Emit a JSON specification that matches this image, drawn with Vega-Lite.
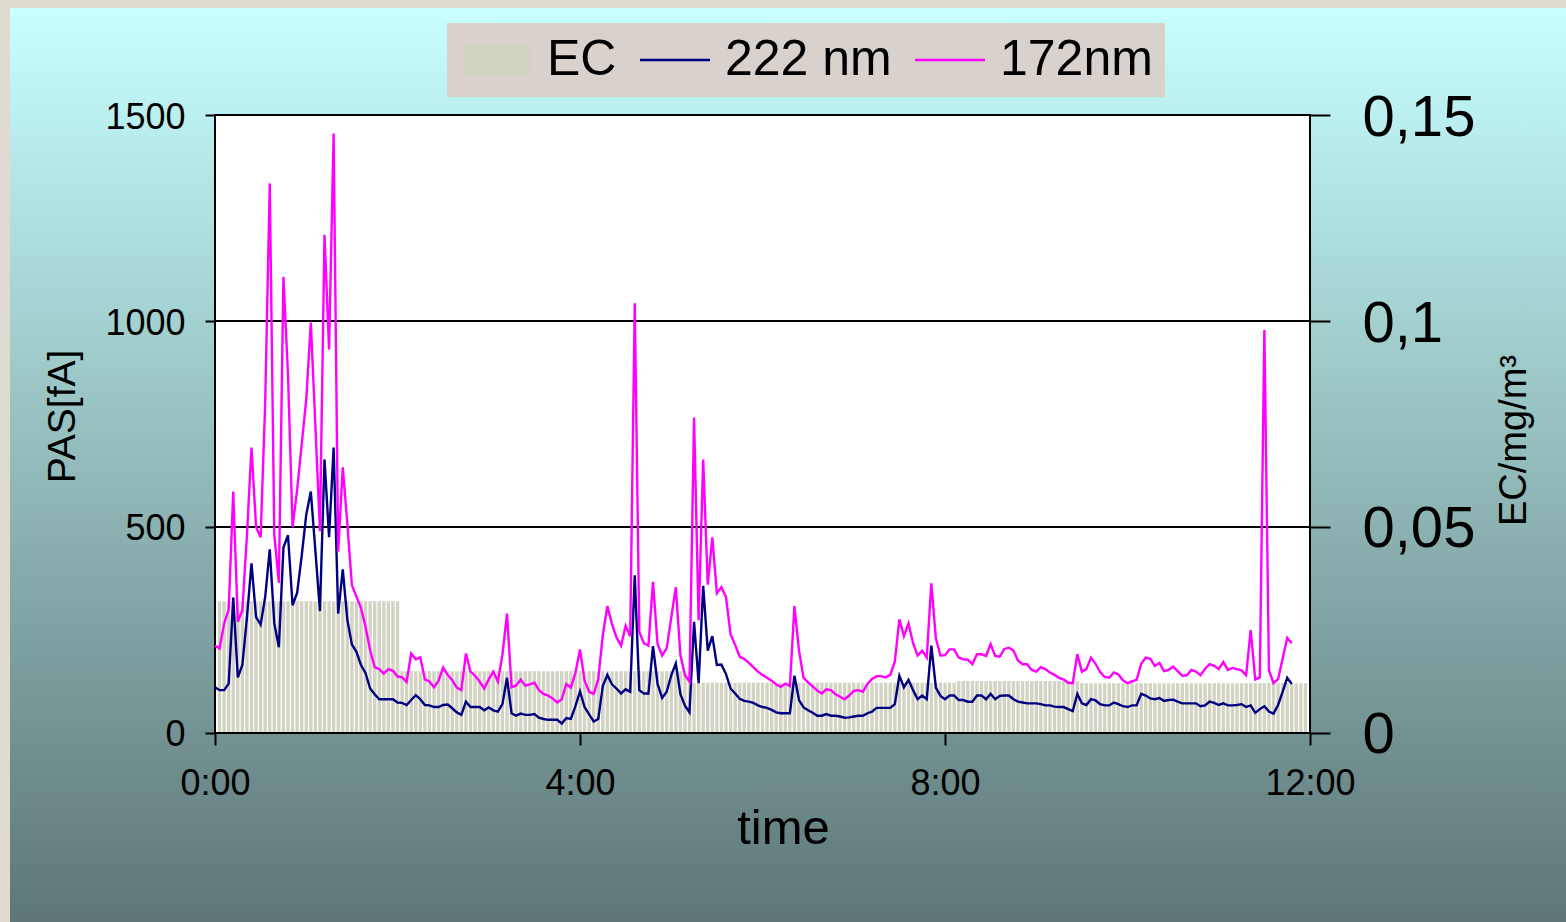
{
  "$schema": "https://vega.github.io/schema/vega-lite/v6.json",
  "width": 1556,
  "height": 914,
  "padding": {"left": 10, "top": 8, "right": 0, "bottom": 0},
  "autosize": {"type": "none"},
  "background": "#e0dbd0",
  "config": {
    "view": {"stroke": null, "fill": {"gradient": "linear", "x1": 0, "y1": 0, "x2": 0, "y2": 1, "stops": [{"offset": 0, "color": "#c8ffff"}, {"offset": 1, "color": "#5e7676"}]}},
    "font": "Liberation Sans",
    "axis": {"domain": false, "grid": false, "labelFont": "Liberation Sans", "titleFont": "Liberation Sans", "labelColor": "black", "titleColor": "black", "tickColor": "black", "tickWidth": 2, "titleFontWeight": "normal", "labelFlush": false, "labelOverlap": false, "labelBound": false}
  },
  "datasets": {
    "pas": [
      {"t":0,"nm222":111,"nm172":212},{"t":3,"nm222":104,"nm172":205},{"t":6,"nm222":104,"nm172":265},{"t":9,"nm222":120,"nm172":300},{"t":12,"nm222":329,"nm172":586},{"t":15,"nm222":135,"nm172":270},{"t":18,"nm222":165,"nm172":298},{"t":21,"nm222":280,"nm172":480},{"t":24,"nm222":412,"nm172":693},{"t":27,"nm222":281,"nm172":500},
      {"t":30,"nm222":263,"nm172":475},{"t":33,"nm222":330,"nm172":800},{"t":36,"nm222":446,"nm172":1334},{"t":39,"nm222":266,"nm172":480},{"t":42,"nm222":208,"nm172":365},{"t":45,"nm222":450,"nm172":1107},{"t":48,"nm222":480,"nm172":870},{"t":51,"nm222":310,"nm172":500},{"t":54,"nm222":340,"nm172":590},{"t":57,"nm222":430,"nm172":700},
      {"t":60,"nm222":530,"nm172":810},{"t":63,"nm222":586,"nm172":996},{"t":66,"nm222":443,"nm172":746},{"t":69,"nm222":296,"nm172":490},{"t":72,"nm222":664,"nm172":1209},{"t":75,"nm222":475,"nm172":931},{"t":78,"nm222":693,"nm172":1455},{"t":81,"nm222":290,"nm172":440},{"t":84,"nm222":397,"nm172":645},{"t":87,"nm222":275,"nm172":509},
      {"t":90,"nm222":215,"nm172":359},{"t":93,"nm222":197,"nm172":331},{"t":96,"nm222":165,"nm172":303},{"t":99,"nm222":145,"nm172":258},{"t":102,"nm222":108,"nm172":201},{"t":105,"nm222":94,"nm172":160},{"t":108,"nm222":82,"nm172":155},{"t":111,"nm222":82,"nm172":144},{"t":114,"nm222":82,"nm172":155},{"t":117,"nm222":82,"nm172":151},
      {"t":120,"nm222":74,"nm172":137},{"t":123,"nm222":73,"nm172":135},{"t":126,"nm222":68,"nm172":124},{"t":129,"nm222":80,"nm172":193},{"t":132,"nm222":92,"nm172":179},{"t":135,"nm222":82,"nm172":184},{"t":138,"nm222":68,"nm172":130},{"t":141,"nm222":67,"nm172":125},{"t":144,"nm222":63,"nm172":111},{"t":147,"nm222":63,"nm172":127},
      {"t":150,"nm222":68,"nm172":159},{"t":153,"nm222":69,"nm172":141},{"t":156,"nm222":60,"nm172":128},{"t":159,"nm222":50,"nm172":110},{"t":162,"nm222":44,"nm172":104},{"t":165,"nm222":76,"nm172":193},{"t":168,"nm222":63,"nm172":149},{"t":171,"nm222":63,"nm172":139},{"t":174,"nm222":63,"nm172":125},{"t":177,"nm222":55,"nm172":108},
      {"t":180,"nm222":62,"nm172":130},{"t":183,"nm222":55,"nm172":149},{"t":186,"nm222":52,"nm172":125},{"t":189,"nm222":70,"nm172":190},{"t":192,"nm222":134,"nm172":290},{"t":195,"nm222":48,"nm172":111},{"t":198,"nm222":42,"nm172":115},{"t":201,"nm222":47,"nm172":130},{"t":204,"nm222":44,"nm172":115},{"t":207,"nm222":44,"nm172":118},
      {"t":210,"nm222":46,"nm172":122},{"t":213,"nm222":37,"nm172":104},{"t":216,"nm222":34,"nm172":95},{"t":219,"nm222":32,"nm172":91},{"t":222,"nm222":32,"nm172":84},{"t":225,"nm222":32,"nm172":74},{"t":228,"nm222":23,"nm172":82},{"t":231,"nm222":36,"nm172":119},{"t":234,"nm222":34,"nm172":110},{"t":237,"nm222":65,"nm172":146},
      {"t":240,"nm222":101,"nm172":203},{"t":243,"nm222":63,"nm172":127},{"t":246,"nm222":45,"nm172":100},{"t":249,"nm222":28,"nm172":95},{"t":252,"nm222":34,"nm172":130},{"t":255,"nm222":114,"nm172":238},{"t":258,"nm222":141,"nm172":308},{"t":261,"nm222":118,"nm172":265},{"t":264,"nm222":108,"nm172":232},{"t":267,"nm222":96,"nm172":212},
      {"t":270,"nm222":106,"nm172":260},{"t":273,"nm222":100,"nm172":235},{"t":276,"nm222":383,"nm172":1043},{"t":279,"nm222":104,"nm172":245},{"t":282,"nm222":96,"nm172":218},{"t":285,"nm222":96,"nm172":212},{"t":288,"nm222":211,"nm172":367},{"t":291,"nm222":119,"nm172":216},{"t":294,"nm222":85,"nm172":188},{"t":297,"nm222":100,"nm172":206},
      {"t":300,"nm222":140,"nm172":280},{"t":303,"nm222":169,"nm172":354},{"t":306,"nm222":95,"nm172":190},{"t":309,"nm222":66,"nm172":140},{"t":312,"nm222":50,"nm172":125},{"t":315,"nm222":270,"nm172":766},{"t":318,"nm222":121,"nm172":274},{"t":321,"nm222":357,"nm172":664},{"t":324,"nm222":200,"nm172":360},{"t":327,"nm222":235,"nm172":475},
      {"t":330,"nm222":165,"nm172":339},{"t":333,"nm222":166,"nm172":354},{"t":336,"nm222":143,"nm172":330},{"t":339,"nm222":108,"nm172":240},{"t":342,"nm222":96,"nm172":214},{"t":345,"nm222":83,"nm172":185},{"t":348,"nm222":78,"nm172":180},{"t":351,"nm222":76,"nm172":170},{"t":354,"nm222":73,"nm172":160},{"t":357,"nm222":67,"nm172":149},
      {"t":360,"nm222":63,"nm172":141},{"t":363,"nm222":61,"nm172":134},{"t":366,"nm222":56,"nm172":127},{"t":369,"nm222":50,"nm172":118},{"t":372,"nm222":48,"nm172":112},{"t":375,"nm222":48,"nm172":120},{"t":378,"nm222":48,"nm172":114},{"t":381,"nm222":139,"nm172":308},{"t":384,"nm222":80,"nm172":200},{"t":387,"nm222":62,"nm172":134},
      {"t":390,"nm222":55,"nm172":123},{"t":393,"nm222":49,"nm172":113},{"t":396,"nm222":42,"nm172":103},{"t":399,"nm222":42,"nm172":96},{"t":402,"nm222":46,"nm172":106},{"t":405,"nm222":42,"nm172":104},{"t":408,"nm222":42,"nm172":94},{"t":411,"nm222":40,"nm172":88},{"t":414,"nm222":37,"nm172":82},{"t":417,"nm222":38,"nm172":91},
      {"t":420,"nm222":40,"nm172":102},{"t":423,"nm222":42,"nm172":104},{"t":426,"nm222":42,"nm172":100},{"t":429,"nm222":48,"nm172":119},{"t":432,"nm222":52,"nm172":131},{"t":435,"nm222":61,"nm172":138},{"t":438,"nm222":61,"nm172":138},{"t":441,"nm222":61,"nm172":135},{"t":444,"nm222":61,"nm172":141},{"t":447,"nm222":70,"nm172":173},
      {"t":450,"nm222":139,"nm172":276},{"t":453,"nm222":111,"nm172":235},{"t":456,"nm222":129,"nm172":266},{"t":459,"nm222":104,"nm172":218},{"t":462,"nm222":82,"nm172":188},{"t":465,"nm222":91,"nm172":200},{"t":468,"nm222":82,"nm172":183},{"t":471,"nm222":212,"nm172":363},{"t":474,"nm222":110,"nm172":230},{"t":477,"nm222":90,"nm172":188},
      {"t":480,"nm222":82,"nm172":189},{"t":483,"nm222":91,"nm172":203},{"t":486,"nm222":91,"nm172":203},{"t":489,"nm222":80,"nm172":183},{"t":492,"nm222":80,"nm172":179},{"t":495,"nm222":76,"nm172":178},{"t":498,"nm222":76,"nm172":167},{"t":501,"nm222":91,"nm172":191},{"t":504,"nm222":91,"nm172":191},{"t":507,"nm222":82,"nm172":187},
      {"t":510,"nm222":95,"nm172":216},{"t":513,"nm222":82,"nm172":187},{"t":516,"nm222":90,"nm172":185},{"t":519,"nm222":91,"nm172":204},{"t":522,"nm222":91,"nm172":207},{"t":525,"nm222":82,"nm172":200},{"t":528,"nm222":76,"nm172":176},{"t":531,"nm222":74,"nm172":167},{"t":534,"nm222":72,"nm172":167},{"t":537,"nm222":72,"nm172":153},
      {"t":540,"nm222":72,"nm172":149},{"t":543,"nm222":70,"nm172":160},{"t":546,"nm222":67,"nm172":155},{"t":549,"nm222":67,"nm172":147},{"t":552,"nm222":64,"nm172":141},{"t":555,"nm222":63,"nm172":134},{"t":558,"nm222":63,"nm172":130},{"t":561,"nm222":58,"nm172":122},{"t":564,"nm222":53,"nm172":121},{"t":567,"nm222":95,"nm172":191},
      {"t":570,"nm222":72,"nm172":149},{"t":573,"nm222":68,"nm172":155},{"t":576,"nm222":82,"nm172":183},{"t":579,"nm222":79,"nm172":168},{"t":582,"nm222":70,"nm172":148},{"t":585,"nm222":67,"nm172":136},{"t":588,"nm222":67,"nm172":134},{"t":591,"nm222":74,"nm172":147},{"t":594,"nm222":70,"nm172":142},{"t":597,"nm222":65,"nm172":128},
      {"t":600,"nm222":63,"nm172":121},{"t":603,"nm222":67,"nm172":125},{"t":606,"nm222":67,"nm172":129},{"t":609,"nm222":95,"nm172":168},{"t":612,"nm222":91,"nm172":183},{"t":615,"nm222":84,"nm172":180},{"t":618,"nm222":82,"nm172":163},{"t":621,"nm222":85,"nm172":170},{"t":624,"nm222":78,"nm172":150},{"t":627,"nm222":80,"nm172":153},
      {"t":630,"nm222":81,"nm172":161},{"t":633,"nm222":76,"nm172":150},{"t":636,"nm222":72,"nm172":139},{"t":639,"nm222":72,"nm172":140},{"t":642,"nm222":72,"nm172":153},{"t":645,"nm222":72,"nm172":149},{"t":648,"nm222":65,"nm172":140},{"t":651,"nm222":67,"nm172":156},{"t":654,"nm222":76,"nm172":167},{"t":657,"nm222":73,"nm172":163},
      {"t":660,"nm222":68,"nm172":155},{"t":663,"nm222":72,"nm172":172},{"t":666,"nm222":67,"nm172":153},{"t":669,"nm222":67,"nm172":158},{"t":672,"nm222":68,"nm172":155},{"t":675,"nm222":70,"nm172":152},{"t":678,"nm222":63,"nm172":140},{"t":681,"nm222":67,"nm172":250},{"t":684,"nm222":49,"nm172":130},{"t":687,"nm222":58,"nm172":135},
      {"t":690,"nm222":65,"nm172":978},{"t":693,"nm222":52,"nm172":153},{"t":696,"nm222":47,"nm172":121},{"t":699,"nm222":68,"nm172":131},{"t":702,"nm222":100,"nm172":180},{"t":705,"nm222":134,"nm172":231},{"t":708,"nm222":119,"nm172":218}
    ],
    "ec": [
      {"t":3,"ec":0.032},{"t":6,"ec":0.032},{"t":9,"ec":0.032},{"t":12,"ec":0.032},{"t":15,"ec":0.032},{"t":18,"ec":0.032},{"t":21,"ec":0.032},{"t":24,"ec":0.032},{"t":27,"ec":0.032},{"t":30,"ec":0.032},
      {"t":33,"ec":0.032},{"t":36,"ec":0.032},{"t":39,"ec":0.032},{"t":42,"ec":0.032},{"t":45,"ec":0.032},{"t":48,"ec":0.032},{"t":51,"ec":0.032},{"t":54,"ec":0.032},{"t":57,"ec":0.032},{"t":60,"ec":0.032},
      {"t":63,"ec":0.032},{"t":66,"ec":0.032},{"t":69,"ec":0.032},{"t":72,"ec":0.032},{"t":75,"ec":0.032},{"t":78,"ec":0.032},{"t":81,"ec":0.032},{"t":84,"ec":0.032},{"t":87,"ec":0.032},{"t":90,"ec":0.032},
      {"t":93,"ec":0.032},{"t":96,"ec":0.032},{"t":99,"ec":0.032},{"t":102,"ec":0.032},{"t":105,"ec":0.032},{"t":108,"ec":0.032},{"t":111,"ec":0.032},{"t":114,"ec":0.032},{"t":117,"ec":0.032},{"t":120,"ec":0.032},
      {"t":123,"ec":0.015},{"t":126,"ec":0.015},{"t":129,"ec":0.015},{"t":132,"ec":0.015},{"t":135,"ec":0.015},{"t":138,"ec":0.015},{"t":141,"ec":0.015},{"t":144,"ec":0.015},{"t":147,"ec":0.015},{"t":150,"ec":0.015},
      {"t":153,"ec":0.015},{"t":156,"ec":0.015},{"t":159,"ec":0.015},{"t":162,"ec":0.015},{"t":165,"ec":0.015},{"t":168,"ec":0.015},{"t":171,"ec":0.015},{"t":174,"ec":0.015},{"t":177,"ec":0.015},{"t":180,"ec":0.015},
      {"t":183,"ec":0.015},{"t":186,"ec":0.015},{"t":189,"ec":0.015},{"t":192,"ec":0.015},{"t":195,"ec":0.015},{"t":198,"ec":0.015},{"t":201,"ec":0.015},{"t":204,"ec":0.015},{"t":207,"ec":0.015},{"t":210,"ec":0.015},
      {"t":213,"ec":0.015},{"t":216,"ec":0.015},{"t":219,"ec":0.015},{"t":222,"ec":0.015},{"t":225,"ec":0.015},{"t":228,"ec":0.015},{"t":231,"ec":0.015},{"t":234,"ec":0.015},{"t":237,"ec":0.015},{"t":240,"ec":0.015},
      {"t":243,"ec":0.015},{"t":246,"ec":0.015},{"t":249,"ec":0.015},{"t":252,"ec":0.015},{"t":255,"ec":0.015},{"t":258,"ec":0.015},{"t":261,"ec":0.015},{"t":264,"ec":0.015},{"t":267,"ec":0.015},{"t":270,"ec":0.015},
      {"t":273,"ec":0.015},{"t":276,"ec":0.015},{"t":279,"ec":0.015},{"t":282,"ec":0.015},{"t":285,"ec":0.015},{"t":288,"ec":0.015},{"t":291,"ec":0.015},{"t":294,"ec":0.015},{"t":297,"ec":0.015},{"t":300,"ec":0.015},
      {"t":303,"ec":0.015},{"t":306,"ec":0.015},{"t":309,"ec":0.015},{"t":312,"ec":0.015},{"t":315,"ec":0.0122},{"t":318,"ec":0.0122},{"t":321,"ec":0.0122},{"t":324,"ec":0.0122},{"t":327,"ec":0.0122},{"t":330,"ec":0.0122},
      {"t":333,"ec":0.0122},{"t":336,"ec":0.0122},{"t":339,"ec":0.0122},{"t":342,"ec":0.0122},{"t":345,"ec":0.0122},{"t":348,"ec":0.0122},{"t":351,"ec":0.0122},{"t":354,"ec":0.0122},{"t":357,"ec":0.0122},{"t":360,"ec":0.0122},
      {"t":363,"ec":0.0122},{"t":366,"ec":0.0122},{"t":369,"ec":0.0122},{"t":372,"ec":0.0122},{"t":375,"ec":0.0122},{"t":378,"ec":0.0122},{"t":381,"ec":0.0122},{"t":384,"ec":0.0122},{"t":387,"ec":0.0122},{"t":390,"ec":0.0122},
      {"t":393,"ec":0.0122},{"t":396,"ec":0.0122},{"t":399,"ec":0.0122},{"t":402,"ec":0.0122},{"t":405,"ec":0.0122},{"t":408,"ec":0.0122},{"t":411,"ec":0.0122},{"t":414,"ec":0.0122},{"t":417,"ec":0.0122},{"t":420,"ec":0.0122},
      {"t":423,"ec":0.0122},{"t":426,"ec":0.0122},{"t":429,"ec":0.0122},{"t":432,"ec":0.0122},{"t":435,"ec":0.0122},{"t":438,"ec":0.0122},{"t":441,"ec":0.0122},{"t":444,"ec":0.0122},{"t":447,"ec":0.0122},{"t":450,"ec":0.0122},
      {"t":453,"ec":0.0122},{"t":456,"ec":0.0122},{"t":459,"ec":0.0122},{"t":462,"ec":0.0122},{"t":465,"ec":0.0122},{"t":468,"ec":0.0122},{"t":471,"ec":0.0122},{"t":474,"ec":0.0122},{"t":477,"ec":0.0122},{"t":480,"ec":0.0122},
      {"t":483,"ec":0.0122},{"t":486,"ec":0.0122},{"t":489,"ec":0.0126},{"t":492,"ec":0.0126},{"t":495,"ec":0.0126},{"t":498,"ec":0.0126},{"t":501,"ec":0.0126},{"t":504,"ec":0.0126},{"t":507,"ec":0.0126},{"t":510,"ec":0.0126},
      {"t":513,"ec":0.0126},{"t":516,"ec":0.0126},{"t":519,"ec":0.0126},{"t":522,"ec":0.0126},{"t":525,"ec":0.0126},{"t":528,"ec":0.0126},{"t":531,"ec":0.0126},{"t":534,"ec":0.0126},{"t":537,"ec":0.0126},{"t":540,"ec":0.0126},
      {"t":543,"ec":0.0126},{"t":546,"ec":0.0126},{"t":549,"ec":0.0126},{"t":552,"ec":0.0126},{"t":555,"ec":0.0126},{"t":558,"ec":0.0126},{"t":561,"ec":0.0126},{"t":564,"ec":0.0126},{"t":567,"ec":0.0126},{"t":570,"ec":0.0121},
      {"t":573,"ec":0.0121},{"t":576,"ec":0.0121},{"t":579,"ec":0.0121},{"t":582,"ec":0.0121},{"t":585,"ec":0.0121},{"t":588,"ec":0.0121},{"t":591,"ec":0.0121},{"t":594,"ec":0.0121},{"t":597,"ec":0.0121},{"t":600,"ec":0.0121},
      {"t":603,"ec":0.0121},{"t":606,"ec":0.0121},{"t":609,"ec":0.0121},{"t":612,"ec":0.0121},{"t":615,"ec":0.0121},{"t":618,"ec":0.0121},{"t":621,"ec":0.0121},{"t":624,"ec":0.0121},{"t":627,"ec":0.0121},{"t":630,"ec":0.0121},
      {"t":633,"ec":0.0121},{"t":636,"ec":0.0121},{"t":639,"ec":0.0121},{"t":642,"ec":0.0121},{"t":645,"ec":0.0121},{"t":648,"ec":0.0121},{"t":651,"ec":0.0121},{"t":654,"ec":0.0121},{"t":657,"ec":0.0121},{"t":660,"ec":0.0121},
      {"t":663,"ec":0.0121},{"t":666,"ec":0.0121},{"t":669,"ec":0.0121},{"t":672,"ec":0.0121},{"t":675,"ec":0.0121},{"t":678,"ec":0.0121},{"t":681,"ec":0.0121},{"t":684,"ec":0.0121},{"t":687,"ec":0.0121},{"t":690,"ec":0.0121},
      {"t":693,"ec":0.0121},{"t":696,"ec":0.0121},{"t":699,"ec":0.0121},{"t":702,"ec":0.0121},{"t":705,"ec":0.0121},{"t":708,"ec":0.0121},{"t":711,"ec":0.0121},{"t":714,"ec":0.0121},{"t":717,"ec":0.0121}
    ]
  },
  "resolve": {"scale": {"y": "independent"}, "axis": {"y": "independent"}},
  "layer": [
    {
      "data": {"values": [{}]},
      "mark": {"type": "rect", "fill": "white"},
      "encoding": {
        "x": {"datum": 0, "type": "quantitative", "scale": {"domain": [-134.795, 888.328], "nice": false, "zero": false, "padding": 0},
          "axis": {"orient": "bottom", "offset": -189, "values": [0, 240, 480, 720], "labelExpr": "floor(datum.value / 60) + ':00'", "tickSize": 12, "labelFontSize": 36, "labelPadding": 21, "title": "time", "titleFontSize": 49, "titleX": 773, "titleY": 95, "titleAlign": "center", "titleBaseline": "middle"}},
        "x2": {"datum": 720},
        "y": {"datum": 0, "type": "quantitative", "scale": {"domain": [-458.74, 1759.71], "nice": false, "zero": false},
          "axis": {"orient": "left", "offset": -205, "values": [0, 500, 1000, 1500], "format": "d", "tickSize": 10, "labelFontSize": 36, "labelPadding": 20, "labelOffset": 2, "title": "PAS[fA]", "titleFontSize": 39, "titleAngle": -90, "titleX": -153, "titleY": 408, "titleAlign": "center", "titleBaseline": "middle"}},
        "y2": {"datum": 1500}
      }
    },
    {
      "data": {"name": "ec"},
      "mark": {"type": "bar", "size": 3.4},
      "encoding": {
        "x": {"field": "t", "type": "quantitative", "scale": {"domain": [-134.795, 888.328], "nice": false, "zero": false, "padding": 0}},
        "y": {"field": "ec", "type": "quantitative", "scale": {"domain": [-0.045874, 0.175971], "nice": false, "zero": false},
          "axis": {"orient": "right", "offset": -256, "values": [0, 0.05, 0.1, 0.15], "labelExpr": "replace(format(datum.value, '.2~f'), '.', ',')", "tickSize": 20, "labelFontSize": 58, "labelPadding": 32, "labelOffset": 3, "title": "EC/mg/m³", "titleFontSize": 38, "titleAngle": -90, "titleX": 204, "titleY": 432, "titleAlign": "center", "titleBaseline": "middle"}},
        "y2": {"datum": 0},
        "color": {"datum": "EC", "type": "nominal",
          "scale": {"domain": ["EC", "222 nm", "172nm"], "range": ["#d3d3c4", "#000080", "#ff00ff"]},
          "legend": {"orient": "none", "legendX": 437, "legendY": 15, "direction": "horizontal", "title": null, "fillColor": "#d9d1cc", "padding": 12,
            "labelFontSize": 50, "labelFont": "Liberation Sans", "labelColor": "black", "labelLimit": 0, "labelOffset": 25, "symbolOffset": 13, "columnPadding": 18, "symbolSize": 4,
            "encode": {"symbols": {"update": {
              "shape": {"signal": "datum.value === 'EC' ? 'M-32,-15H32V15H-32Z' : 'M-35,0H35'"},
              "fill": {"signal": "datum.value === 'EC' ? '#d3d3c4' : 'transparent'"},
              "stroke": {"signal": "datum.value === 'EC' ? 'transparent' : (datum.value === '222 nm' ? '#000080' : '#ff00ff')"},
              "strokeWidth": {"value": 2.5},
              "opacity": {"value": 1}
            }}}}
        }
      }
    },
    {
      "data": {"values": [{}]},
      "mark": {"type": "rule", "color": "black", "strokeWidth": 2},
      "encoding": {
        "x": {"datum": 0, "type": "quantitative", "scale": {"domain": [-134.795, 888.328], "nice": false, "zero": false, "padding": 0}},
        "x2": {"datum": 720},
        "y": {"datum": 500, "type": "quantitative", "scale": {"domain": [-458.74, 1759.71], "nice": false, "zero": false}, "axis": null}
      }
    },
    {
      "data": {"values": [{}]},
      "mark": {"type": "rule", "color": "black", "strokeWidth": 2},
      "encoding": {
        "x": {"datum": 0, "type": "quantitative", "scale": {"domain": [-134.795, 888.328], "nice": false, "zero": false, "padding": 0}},
        "x2": {"datum": 720},
        "y": {"datum": 1000, "type": "quantitative", "scale": {"domain": [-458.74, 1759.71], "nice": false, "zero": false}, "axis": null}
      }
    },
    {
      "data": {"values": [{}]},
      "mark": {"type": "rect", "filled": false, "stroke": "black", "strokeWidth": 2},
      "encoding": {
        "x": {"datum": 0, "type": "quantitative", "scale": {"domain": [-134.795, 888.328], "nice": false, "zero": false, "padding": 0}},
        "x2": {"datum": 720},
        "y": {"datum": 0, "type": "quantitative", "scale": {"domain": [-458.74, 1759.71], "nice": false, "zero": false}, "axis": null},
        "y2": {"datum": 1500}
      }
    },
    {
      "data": {"name": "pas"},
      "mark": {"type": "line", "strokeWidth": 2.4},
      "encoding": {
        "x": {"field": "t", "type": "quantitative", "scale": {"domain": [-134.795, 888.328], "nice": false, "zero": false, "padding": 0}},
        "y": {"field": "nm222", "type": "quantitative", "scale": {"domain": [-458.74, 1759.71], "nice": false, "zero": false}, "axis": null},
        "color": {"datum": "222 nm", "type": "nominal"}
      }
    },
    {
      "data": {"name": "pas"},
      "mark": {"type": "line", "strokeWidth": 2.4},
      "encoding": {
        "x": {"field": "t", "type": "quantitative", "scale": {"domain": [-134.795, 888.328], "nice": false, "zero": false, "padding": 0}},
        "y": {"field": "nm172", "type": "quantitative", "scale": {"domain": [-458.74, 1759.71], "nice": false, "zero": false}, "axis": null},
        "color": {"datum": "172nm", "type": "nominal"}
      }
    }
  ]
}
